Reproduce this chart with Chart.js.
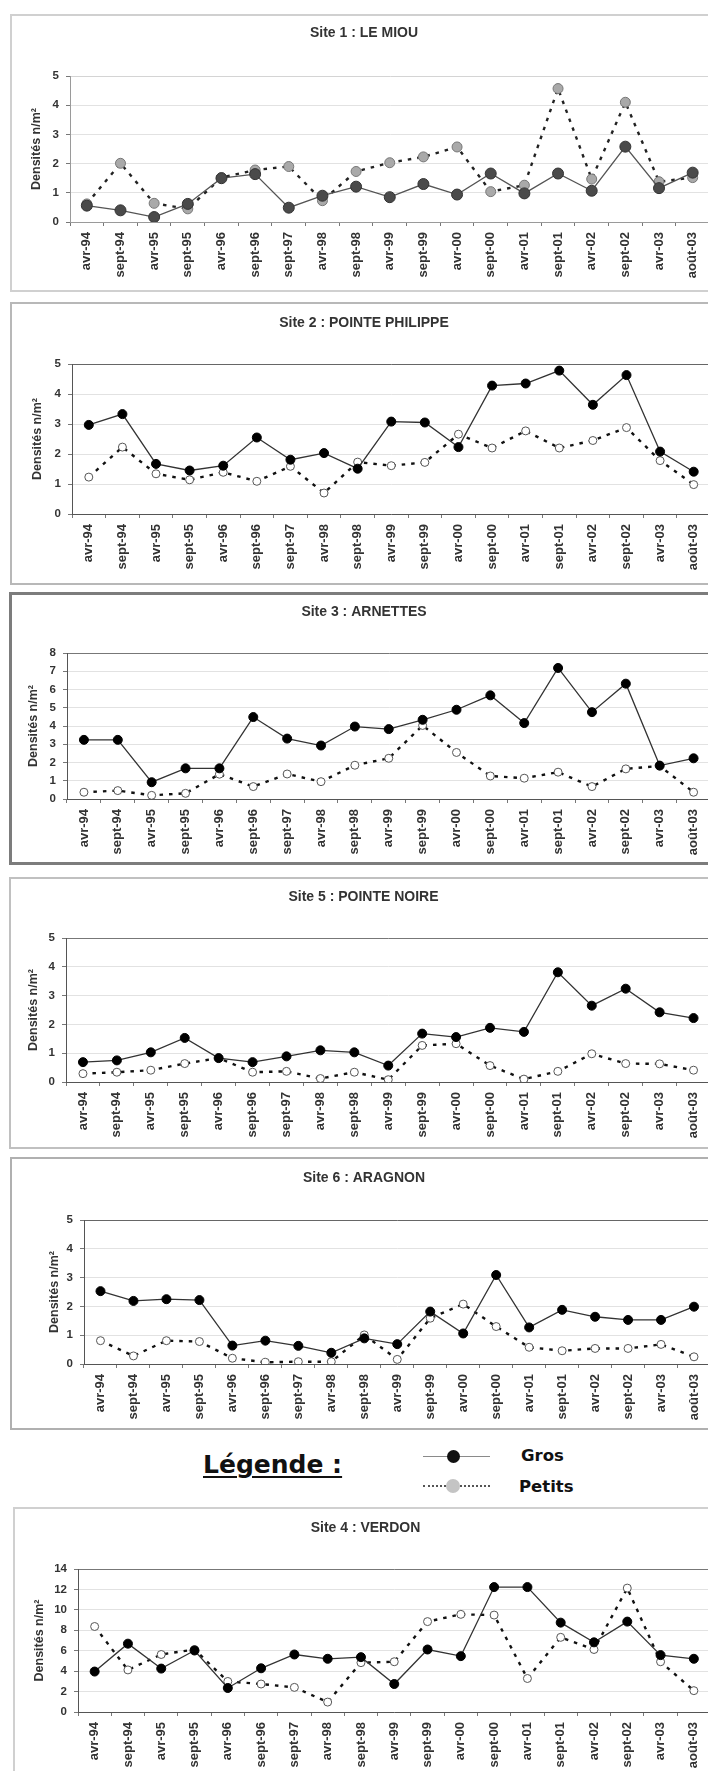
<!DOCTYPE html>
<html>
<head>
<meta charset="utf-8">
<script src="https://cdn.jsdelivr.net/npm/chart.js@4/dist/chart.umd.min.js"></script>
<style>
  html, body { margin: 0; padding: 0; background: #fff; }
  body { position: relative; width: 708px; height: 1771px; overflow: hidden; }
  .frame { position: absolute; box-sizing: border-box; background: #fff; }
  .frame canvas { position: absolute; left: 0; top: 0; }
  .leg { position: absolute; font-family: "DejaVu Sans", sans-serif; font-weight: bold; color: #111; white-space: nowrap; }
</style>
</head>
<body>
<div id="panels"></div>

<div class="leg" style="left:203px;top:1450px;font-size:25px;line-height:30px;text-decoration:underline;text-decoration-thickness:2px;text-underline-offset:3px;">Légende :</div>
<div style="position:absolute;left:423px;top:1456px;width:67px;height:1px;background:#8a8a8a;"></div>
<div style="position:absolute;left:447px;top:1450px;width:13px;height:13px;border-radius:50%;background:#111;"></div>
<div class="leg" style="left:521px;top:1446px;font-size:16.5px;line-height:20px;">Gros</div>
<div style="position:absolute;left:423px;top:1485px;width:67px;height:0;border-top:2px dotted #555;"></div>
<div style="position:absolute;left:446px;top:1479px;width:14px;height:14px;border-radius:50%;background:#c4c4c4;"></div>
<div class="leg" style="left:519px;top:1477px;font-size:16.5px;line-height:20px;">Petits</div>

<script>
(function () {
    if (typeof Chart === 'undefined') {
        return;
    }

    const categories = ['avr-94', 'sept-94', 'avr-95', 'sept-95', 'avr-96', 'sept-96', 'sept-97', 'avr-98', 'sept-98', 'avr-99',
        'sept-99', 'avr-00', 'sept-00', 'avr-01', 'sept-01', 'avr-02', 'sept-02', 'avr-03', 'août-03'];

    const site1Gros = [0.56, 0.40, 0.17, 0.62, 1.50, 1.64, 0.49, 0.90, 1.21, 0.85, 1.30, 0.94, 1.66, 0.98, 1.66, 1.07, 2.58, 1.16, 1.69];
    const site1Petits = [0.62, 2.01, 0.64, 0.45, 1.52, 1.78, 1.90, 0.73, 1.73, 2.03, 2.23, 2.57, 1.04, 1.26, 4.57, 1.47, 4.10, 1.38, 1.52];

    const site2Gros = [2.97, 3.33, 1.67, 1.45, 1.61, 2.55, 1.81, 2.03, 1.51, 3.08, 3.05, 2.23, 4.28, 4.35, 4.78, 3.64, 4.63, 2.08, 1.41];
    const site2Petits = [1.23, 2.23, 1.34, 1.14, 1.39, 1.09, 1.59, 0.70, 1.73, 1.61, 1.72, 2.66, 2.20, 2.77, 2.20, 2.45, 2.88, 1.78, 0.98];

    const site3Gros = [3.24, 3.24, 0.92, 1.68, 1.68, 4.49, 3.31, 2.93, 3.97, 3.83, 4.34, 4.89, 5.68, 4.16, 7.18, 4.76, 6.32, 1.83, 2.23];
    const site3Petits = [0.37, 0.46, 0.20, 0.31, 1.36, 0.68, 1.37, 0.95, 1.85, 2.23, 4.03, 2.55, 1.26, 1.14, 1.47, 0.68, 1.65, 1.81, 0.37];

    const site5Gros = [0.69, 0.75, 1.03, 1.53, 0.83, 0.69, 0.89, 1.10, 1.03, 0.57, 1.68, 1.56, 1.88, 1.74, 3.81, 2.65, 3.24, 2.42, 2.22];
    const site5Petits = [0.29, 0.34, 0.41, 0.64, 0.83, 0.34, 0.37, 0.12, 0.34, 0.08, 1.27, 1.33, 0.57, 0.10, 0.37, 0.98, 0.64, 0.63, 0.41];

    const site6Gros = [2.53, 2.19, 2.25, 2.22, 0.64, 0.81, 0.63, 0.39, 0.89, 0.69, 1.82, 1.06, 3.09, 1.27, 1.88, 1.64, 1.53, 1.53, 1.99];
    const site6Petits = [0.81, 0.28, 0.81, 0.78, 0.20, 0.06, 0.08, 0.08, 1.01, 0.16, 1.59, 2.08, 1.30, 0.58, 0.46, 0.54, 0.54, 0.68, 0.25];

    const site4Gros = [3.96, 6.69, 4.25, 6.02, 2.35, 4.28, 5.63, 5.21, 5.37, 2.74, 6.12, 5.47, 12.23, 12.23, 8.75, 6.82, 8.85, 5.57, 5.21];
    const site4Petits = [8.37, 4.12, 5.63, 6.12, 2.99, 2.74, 2.41, 0.97, 4.83, 4.92, 8.85, 9.56, 9.49, 3.28, 7.31, 6.12, 12.13, 4.92, 2.09];

    const yTicksMax = [5, 5, 8, 5, 5, 14];
    const yTicksStep = [1, 1, 1, 1, 1, 2];

    const axisTitle = 'Densités n/m²';
    const fontFamily = '"Liberation Sans", Arial, sans-serif';
    const plotRight = 716;

    Chart.defaults.font.family = fontFamily;
    Chart.defaults.color = '#333';

    const panels = [
        { title: 'Site 1 : LE MIOU', gros: site1Gros, petits: site1Petits, grey: true,
          frame: { l: 10, t: 14, b: 292, bw: 2, color: '#d0d0d0' }, plot: { l: 70, t: 76, b: 222 },
          titleY: 33, axisTitleX: 37, axisColor: '#9a9a9a', topColor: '#d4d4d4' },
        { title: 'Site 2 : POINTE PHILIPPE', gros: site2Gros, petits: site2Petits,
          frame: { l: 10, t: 302, b: 585, bw: 2, color: '#b8b8b8' }, plot: { l: 72, t: 364, b: 514 },
          titleY: 323, axisTitleX: 38, axisColor: '#555', topColor: '#666' },
        { title: 'Site 3 : ARNETTES', gros: site3Gros, petits: site3Petits,
          frame: { l: 9, t: 592, b: 865, bw: 3, color: '#7c7c7c' }, plot: { l: 67, t: 653, b: 799 },
          titleY: 612, axisTitleX: 34, axisColor: '#555', topColor: '#777' },
        { title: 'Site 5 : POINTE NOIRE', gros: site5Gros, petits: site5Petits,
          frame: { l: 9, t: 877, b: 1149, bw: 2, color: '#c0c0c0' }, plot: { l: 66, t: 938, b: 1082 },
          titleY: 897, axisTitleX: 34, axisColor: '#555', topColor: '#777' },
        { title: 'Site 6 : ARAGNON', gros: site6Gros, petits: site6Petits,
          frame: { l: 10, t: 1157, b: 1430, bw: 2, color: '#b0b0b0' }, plot: { l: 84, t: 1220, b: 1364 },
          titleY: 1178, axisTitleX: 55, axisColor: '#555', topColor: '#666' },
        { title: 'Site 4 : VERDON', gros: site4Gros, petits: site4Petits,
          frame: { l: 13, t: 1507, b: 1800, bw: 2, color: '#d0d0d0' }, plot: { l: 78, t: 1569, b: 1712 },
          titleY: 1528, axisTitleX: 40, axisColor: '#555', topColor: '#777' }
    ];

    const host = document.getElementById('panels');

    panels.forEach(function (p, i) {
        const f = p.frame;
        const div = document.createElement('div');
        div.className = 'frame';
        div.style.left = f.l + 'px';
        div.style.top = f.t + 'px';
        div.style.width = (740 - f.l) + 'px';
        div.style.height = (f.b - f.t) + 'px';
        div.style.border = f.bw + 'px solid ' + f.color;
        host.appendChild(div);

        const cLeft = f.l + f.bw;
        const cTop = f.t + f.bw;
        const cBottom = f.b - f.bw;
        const canvas = document.createElement('canvas');
        canvas.width = plotRight - cLeft;
        canvas.height = cBottom - cTop;
        canvas.style.width = canvas.width + 'px';
        canvas.style.height = canvas.height + 'px';
        div.appendChild(canvas);

        const yMax = yTicksMax[i];
        const titleLine = 14 * 1.2;
        const axisTitleLine = 12.5 * 1.2;

        const grosStyle = p.grey
            ? { fill: '#4a4a4a', border: '#333', radius: 5.5, line: '#555' }
            : { fill: '#000', border: '#000', radius: 4.5, line: '#333' };
        const petitsStyle = p.grey
            ? { fill: '#a9a9a9', border: '#777', radius: 5, line: '#222' }
            : { fill: '#fff', border: '#555', radius: 4, line: '#111' };

        new Chart(canvas.getContext('2d'), {
            type: 'line',
            data: {
                labels: categories.slice(),
                datasets: [
                    {
                        label: 'Gros',
                        data: p.gros.slice(),
                        borderColor: grosStyle.line,
                        borderWidth: 1.3,
                        pointBackgroundColor: grosStyle.fill,
                        pointBorderColor: grosStyle.border,
                        pointBorderWidth: 1,
                        pointRadius: grosStyle.radius,
                        tension: 0,
                        fill: false
                    },
                    {
                        label: 'Petits',
                        data: p.petits.slice(),
                        borderColor: petitsStyle.line,
                        borderWidth: 2.4,
                        borderDash: [3.5, 6],
                        pointBackgroundColor: petitsStyle.fill,
                        pointBorderColor: petitsStyle.border,
                        pointBorderWidth: 1,
                        pointRadius: petitsStyle.radius,
                        tension: 0,
                        fill: false
                    }
                ]
            },
            options: {
                responsive: false,
                animation: false,
                devicePixelRatio: 1,
                layout: { padding: 0 },
                plugins: {
                    legend: { display: false },
                    tooltip: { enabled: false },
                    title: {
                        display: true,
                        text: p.title,
                        color: '#333',
                        font: { size: 14, weight: 'bold', lineHeight: 1.2 },
                        padding: {
                            top: p.titleY - cTop - titleLine / 2,
                            bottom: p.plot.t - p.titleY - titleLine / 2
                        }
                    }
                },
                scales: {
                    x: {
                        type: 'category',
                        offset: true,
                        grid: { offset: true, drawOnChartArea: false, drawTicks: true, tickLength: 4, color: '#777' },
                        border: { color: p.axisColor, width: 1 },
                        ticks: {
                            autoSkip: false,
                            maxRotation: 90,
                            minRotation: 90,
                            padding: 6,
                            color: '#333',
                            font: { size: 13, weight: 'bold' }
                        },
                        afterFit: function (scale) {
                            scale.height = cBottom - p.plot.b;
                        }
                    },
                    y: {
                        min: 0,
                        max: yMax,
                        ticks: {
                            stepSize: yTicksStep[i],
                            padding: 7,
                            color: '#333',
                            font: { size: 11.5, weight: 'bold' }
                        },
                        grid: {
                            color: function (ctx) {
                                return ctx.tick && ctx.tick.value === yMax ? p.topColor : '#e2e2e2';
                            },
                            tickColor: '#777',
                            tickLength: 4
                        },
                        border: { color: p.axisColor, width: 1 },
                        title: {
                            display: true,
                            text: axisTitle,
                            color: '#333',
                            font: { size: 12.5, weight: 'bold', lineHeight: 1.2 },
                            padding: { top: p.axisTitleX - cLeft - axisTitleLine / 2, bottom: 0 }
                        },
                        afterFit: function (scale) {
                            scale.width = p.plot.l - cLeft;
                        }
                    }
                }
            }
        });
    });
})();
</script>
</body>
</html>
